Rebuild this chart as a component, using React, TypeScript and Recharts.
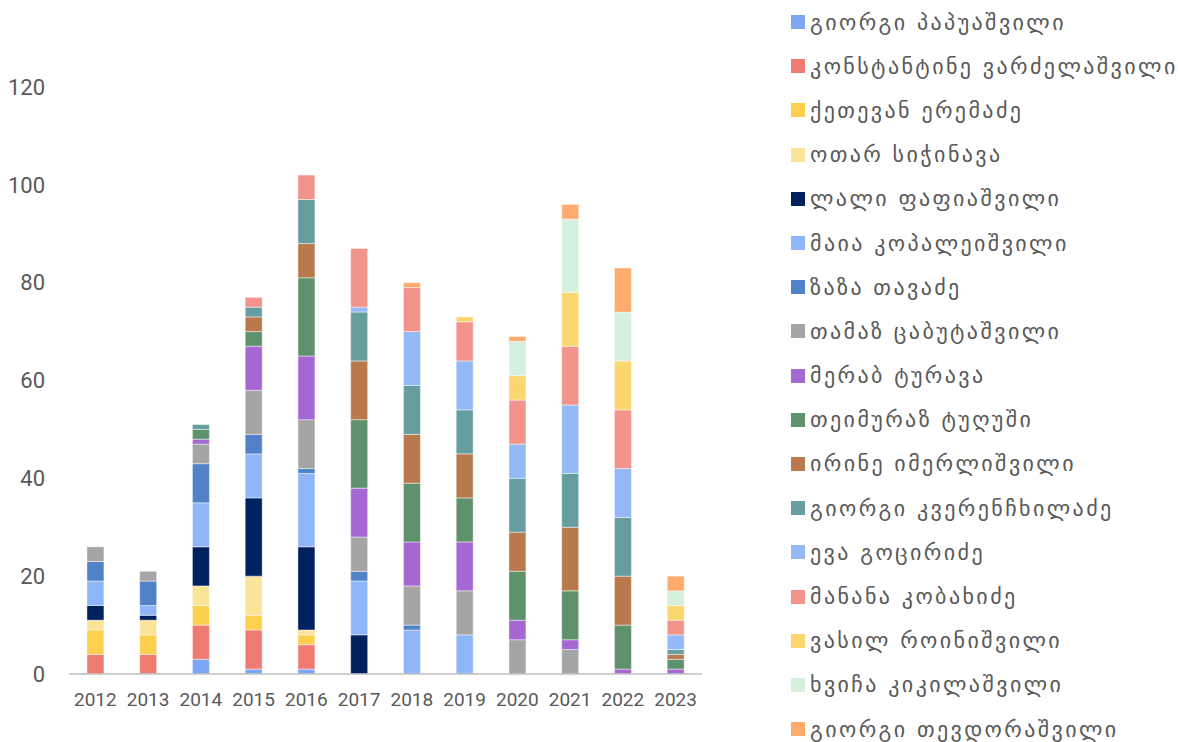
import React from 'react';
import { BarChart, Bar, XAxis, YAxis } from 'recharts';

const years = ['2012', '2013', '2014', '2015', '2016', '2017', '2018', '2019', '2020', '2021', '2022', '2023'];
const yTicks = [0, 20, 40, 60, 80, 100, 120];

const giorgiPapuashvili = [0, 0, 3, 1, 1, 0, 0, 0, 0, 0, 0, 0];
const konstantine = [4, 4, 7, 8, 5, 0, 0, 0, 0, 0, 0, 0];
const qetevan = [5, 4, 4, 3, 2, 0, 0, 0, 0, 0, 0, 0];
const otar = [2, 3, 4, 8, 1, 0, 0, 0, 0, 0, 0, 0];
const lali = [3, 1, 8, 16, 17, 8, 0, 0, 0, 0, 0, 0];
const maia = [5, 2, 9, 9, 15, 11, 9, 8, 0, 0, 0, 0];
const zaza = [4, 5, 8, 4, 1, 2, 1, 0, 0, 0, 0, 0];
const tamaz = [3, 2, 4, 9, 10, 7, 8, 9, 7, 5, 0, 0];
const merab = [0, 0, 1, 9, 13, 10, 9, 10, 4, 2, 1, 1];
const teimuraz = [0, 0, 2, 3, 16, 14, 12, 9, 10, 10, 9, 2];
const irine = [0, 0, 0, 3, 7, 12, 10, 9, 8, 13, 10, 1];
const giorgiKverenchkhiladze = [0, 0, 1, 2, 9, 10, 10, 9, 11, 11, 12, 1];
const eva = [0, 0, 0, 0, 0, 1, 11, 10, 7, 14, 10, 3];
const manana = [0, 0, 0, 2, 5, 12, 9, 8, 9, 12, 12, 3];
const vasil = [0, 0, 0, 0, 0, 0, 0, 1, 5, 11, 10, 3];
const khvicha = [0, 0, 0, 0, 0, 0, 0, 0, 7, 15, 10, 3];
const giorgiTevdorashvili = [0, 0, 0, 0, 0, 0, 1, 0, 1, 3, 9, 3];

const series = [
  { key: 's1', name: 'გიორგი პაპუაშვილი', values: giorgiPapuashvili, color: '#7BA7F5' },
  { key: 's2', name: 'კონსტანტინე ვარძელაშვილი', values: konstantine, color: '#F07B72' },
  { key: 's3', name: 'ქეთევან ერემაძე', values: qetevan, color: '#FDCF4F' },
  { key: 's4', name: 'ოთარ სიჭინავა', values: otar, color: '#FCE39A' },
  { key: 's5', name: 'ლალი ფაფიაშვილი', values: lali, color: '#00205F' },
  { key: 's6', name: 'მაია კოპალეიშვილი', values: maia, color: '#8FB6F8' },
  { key: 's7', name: 'ზაზა თავაძე', values: zaza, color: '#5182C7' },
  { key: 's8', name: 'თამაზ ცაბუტაშვილი', values: tamaz, color: '#A5A5A5' },
  { key: 's9', name: 'მერაბ ტურავა', values: merab, color: '#A567D1' },
  { key: 's10', name: 'თეიმურაზ ტუღუში', values: teimuraz, color: '#5F916C' },
  { key: 's11', name: 'ირინე იმერლიშვილი', values: irine, color: '#B8794C' },
  { key: 's12', name: 'გიორგი კვერენჩხილაძე', values: giorgiKverenchkhiladze, color: '#669EA0' },
  { key: 's13', name: 'ევა გოცირიძე', values: eva, color: '#94B9F6' },
  { key: 's14', name: 'მანანა კობახიძე', values: manana, color: '#F2948C' },
  { key: 's15', name: 'ვასილ როინიშვილი', values: vasil, color: '#FCD770' },
  { key: 's16', name: 'ხვიჩა კიკილაშვილი', values: khvicha, color: '#D5F0DB' },
  { key: 's17', name: 'გიორგი თევდორაშვილი', values: giorgiTevdorashvili, color: '#FFAB6E' },
];

const data = years.map((year, i) => {
  const row: Record<string, string | number> = { year };
  series.forEach(s => { row[s.key] = s.values[i]; });
  return row;
});

const textColor = '#595959';

function LegendList() {
  return (
    <div style={{ position: 'absolute', left: 791, top: 0, display: 'flex', flexDirection: 'column' }}>
      {series.map(s => (
        <div
          key={s.key}
          style={{ height: 44.2, display: 'flex', alignItems: 'center', whiteSpace: 'nowrap' }}
        >
          <span style={{ width: 14, height: 14, backgroundColor: s.color, display: 'inline-block', marginRight: 5 }} />
          <span style={{ fontFamily: '"DejaVu Sans", sans-serif', fontSize: 22, letterSpacing: 2.4, color: textColor }}>
            {s.name}
          </span>
        </div>
      ))}
    </div>
  );
}

export default function App() {
  return (
    <div style={{ position: 'absolute', left: 0, top: 0, width: 1178, height: 742, background: '#ffffff' }}>
      <BarChart
        width={720}
        height={742}
        data={data}
        margin={{ top: 87, right: 18, bottom: 38, left: 0 }}
        barCategoryGap="34%"
      >
        <XAxis
          dataKey="year"
          height={30}
          axisLine={{ stroke: '#BFBFBF', strokeWidth: 1.5 }}
          tickLine={false}
          tickSize={0}
          tickMargin={19}
          interval={0}
          tick={{ fontSize: 19, fill: textColor, fontFamily: 'Roboto, sans-serif' }}
        />
        <YAxis
          domain={[0, 120]}
          ticks={yTicks}
          axisLine={false}
          tickLine={false}
          tickSize={0}
          tickMargin={24}
          width={69}
          tick={{ fontSize: 22, fill: textColor, fontFamily: 'Roboto, sans-serif' }}
        />
        {series.map(s => (
          <Bar
            key={s.key}
            dataKey={s.key}
            name={s.name}
            stackId="a"
            fill={s.color}
            stroke="rgba(255,255,255,0.6)"
            strokeWidth={0.75}
            isAnimationActive={false}
          />
        ))}
      </BarChart>
      <LegendList />
    </div>
  );
}
